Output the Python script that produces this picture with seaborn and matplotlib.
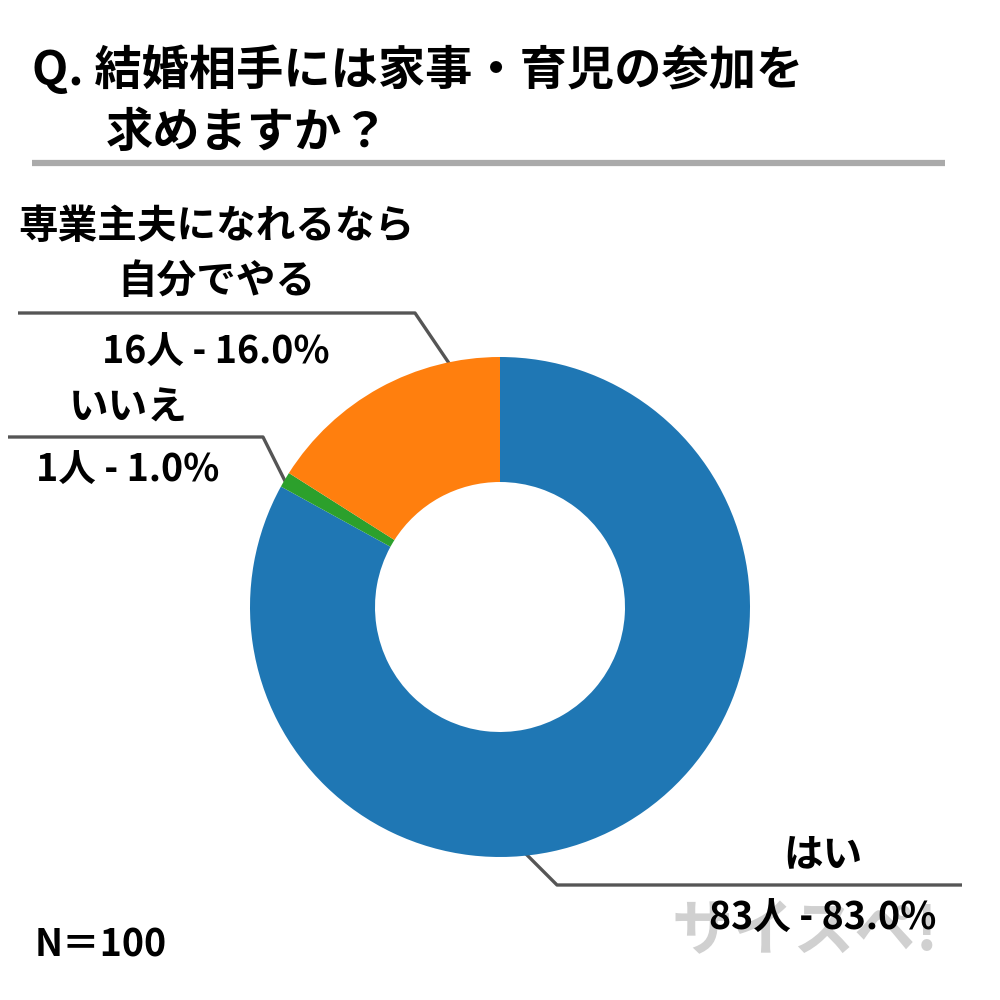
import matplotlib
matplotlib.use("Agg")
import matplotlib.pyplot as plt
import seaborn as sns

# data
answers = ["はい", "いいえ", "専業主夫になれるなら\n自分でやる"]
counts = [83, 1, 16]
percents = [83.0, 1.0, 16.0]
n_total = 100

sns.set_theme(style="white")
plt.rcParams["font.family"] = ["Noto Sans CJK JP", "DejaVu Sans"]

tab = sns.color_palette("tab10")
colors = [tab[0], tab[2], tab[1]]

fig = plt.figure(figsize=(10, 10), dpi=100)
fig.patch.set_facecolor("white")

# overlay in pixel coords for title / leader lines
over = fig.add_axes([0, 0, 1, 1])
over.set_xlim(0, 1000)
over.set_ylim(1000, 0)
over.axis("off")

# donut
ax = fig.add_axes([0.25, 0.143, 0.5, 0.5])
ax.pie(counts, colors=colors, startangle=90, counterclock=False,
       radius=1.0, wedgeprops=dict(width=0.5, linewidth=0))
ax.set_xlim(-1, 1)
ax.set_ylim(-1, 1)
ax.set_aspect("equal")
ax.axis("off")

# title
over.text(32, 70, "Q. 結婚相手には家事・育児の参加を", fontsize=34, fontweight="bold",
          ha="left", va="center", color="black")
over.text(106, 133, "求めますか？", fontsize=34, fontweight="bold",
          ha="left", va="center", color="black")
over.plot([32, 945], [163, 163], color="#aaaaaa", lw=4.5, solid_capstyle="butt")

# watermark
over.text(805, 932, "サイスペ!", fontsize=44, fontweight="bold", color="#d0d0d0",
          ha="center", va="center", zorder=0)

line_kw = dict(color="#555555", lw=2.4, solid_capstyle="butt")

# labels
label_pos = [
    # (center x, name y, value y, leader line)
    (823, 855, 918, [(502, 830), (557, 885), (962, 885)]),
    (128, 408, 470, [(288, 487), (263, 437), (8, 437)]),
    (216, 254, 352, [(457, 375), (415, 313), (18, 313)]),
]
for name, c, p, (cx, ny, vy, pts) in zip(answers, counts, percents, label_pos):
    xs, ys = zip(*pts)
    over.plot(xs, ys, **line_kw)
    over.text(cx, ny, name, fontsize=28.5, fontweight="bold", ha="center",
              va="center", color="black", linespacing=1.45)
    over.text(cx, vy, f"{c}人 - {p:.1f}%", fontsize=27, fontweight="bold",
              ha="center", va="center", color="black")

over.text(35, 945, f"N＝{n_total}", fontsize=27, fontweight="bold",
          ha="left", va="center", color="black")

fig.savefig("out.png", dpi=100, facecolor="white")
